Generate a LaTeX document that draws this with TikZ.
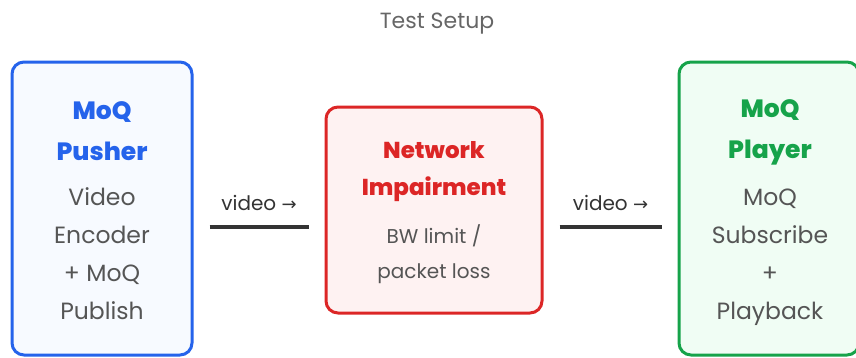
\documentclass[tikz,border=0pt]{standalone}
\usepackage{fontspec}
\setmainfont{Poppins}
\newfontfamily\heavyfont{Poppins}[UprightFont=* ExtraBold]
\newfontfamily\symfont{DejaVu Sans}
\usepackage{xcolor}
\usetikzlibrary{calc}

\definecolor{pushblue}{HTML}{2563EB}
\definecolor{pushfill}{HTML}{F7FAFF}
\definecolor{netred}{HTML}{DC2626}
\definecolor{netfill}{HTML}{FEF2F2}
\definecolor{playgreen}{HTML}{16A34A}
\definecolor{playfill}{HTML}{F0FDF4}
\definecolor{bodygray}{HTML}{555555}
\definecolor{linkgray}{HTML}{333333}

\begin{document}
\begin{tikzpicture}[x=1pt, y=-1pt,
	block/.style={rectangle, rounded corners=12pt, line width=3pt, inner sep=0pt},
	head/.style={align=center, inner sep=0pt, font=\heavyfont\fontsize{25}{41}\selectfont},
	body/.style={align=center, inner sep=0pt, text=bodygray, font=\fontsize{23.5}{38}\selectfont},
	link/.style={line width=3.5pt, draw=linkgray, shorten <=16pt, shorten >=16pt},
	linklabel/.style={text=linkgray, font=\fontsize{20}{22}\selectfont}]

	\useasboundingbox (0,0) rectangle (856,357);
	\clip (0,0) rectangle (856,357);

	% title
	\node [anchor=base, text=bodygray!90, font=\fontsize{22}{24}\selectfont] (title) at (437,28) {Test Setup};

	% boxes
	\node [block, draw=pushblue, fill=pushfill, minimum width=180pt, minimum height=293pt] (pusher) at (102,208.5) {};
	\node [block, draw=netred, fill=netfill, minimum width=216pt, minimum height=206pt] (impair) at (434,210) {};
	\node [block, draw=playgreen, fill=playfill, minimum width=180pt, minimum height=293pt] (player) at (769,208.5) {};

	% texts
	\node [head, text=pushblue] (pushertitle) at (102,131) {MoQ\\Pusher};
	\node [body] (pusherbody) at (102,253.5) {Video\\Encoder\\+ MoQ\\Publish};
	\node [head, text=netred, font=\heavyfont\fontsize{23}{37}\selectfont] (impairtitle) at (434,172) {Network\\Impairment};
	\node [body, font=\fontsize{20}{35}\selectfont] (impairbody) at (434,254.5) {BW limit /\\packet loss};
	\node [head, text=playgreen] (playertitle) at (770,132) {MoQ\\Player};
	\node [body] (playerbody) at (770,257) {MoQ\\Subscribe\\+\\Playback};

	% links
	\draw [link] ([yshift=-18.5pt]pusher.east) -- ([yshift=-18.5pt]pusher.east -| impair.west)
		node [midway, above=11pt, linklabel] (videoa) {video {\symfont\fontsize{18}{22}\selectfont →}};
	\draw [link] ([yshift=-17pt]impair.east) -- ([yshift=-17pt]impair.east -| player.west)
		node [midway, above=11pt, linklabel] (videob) {video {\symfont\fontsize{18}{22}\selectfont →}};

\end{tikzpicture}
\end{document}
